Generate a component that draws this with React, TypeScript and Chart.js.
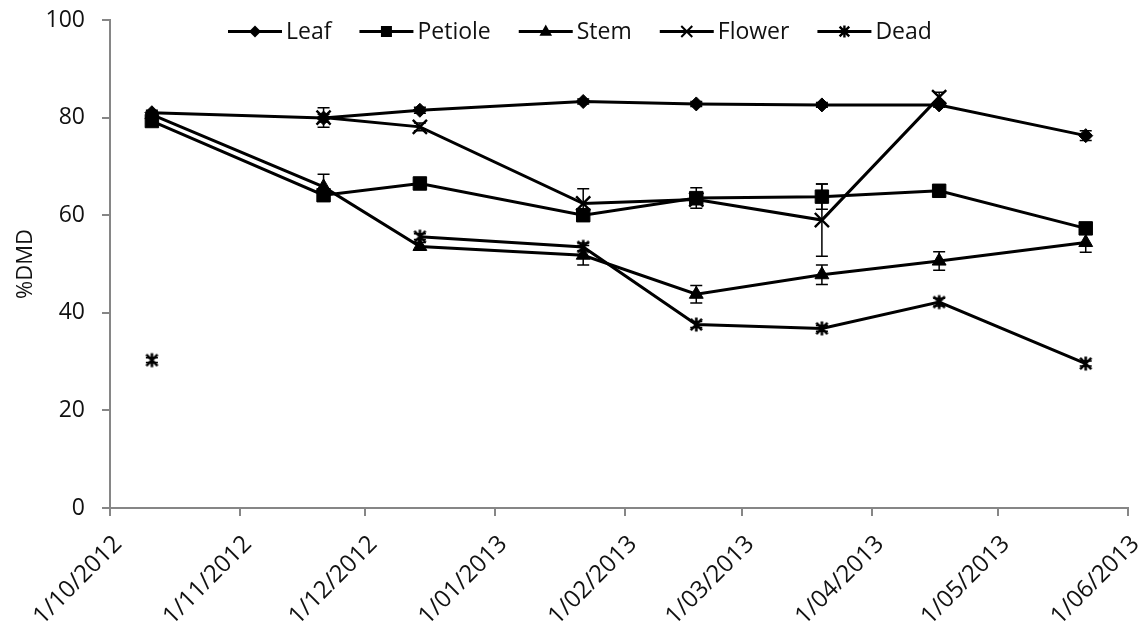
import React, { useEffect, useRef } from "react";
import { Chart, registerables } from "chart.js";

Chart.register(...registerables);

// ---------- data ----------
const sampleDates = [
  "2012-10-11",
  "2012-11-21",
  "2012-12-14",
  "2013-01-22",
  "2013-02-18",
  "2013-03-20",
  "2013-04-17",
  "2013-05-22",
];

const monthTicks = [
  "2012-10-01",
  "2012-11-01",
  "2012-12-01",
  "2013-01-01",
  "2013-02-01",
  "2013-03-01",
  "2013-04-01",
  "2013-05-01",
  "2013-06-01",
];

const seriesNames = ["Leaf", "Petiole", "Stem", "Flower", "Dead"];

const leaf = [81.0, 79.9, 81.5, 83.3, 82.8, 82.6, 82.6, 76.3];
const leafErr = [0.5, 0.8, 0.6, 0.5, 0.5, 0.5, 0.5, 1.0];

const petiole = [79.3, 64.1, 66.5, 60.0, 63.5, 63.8, 65.0, 57.3];
const petioleErr = [0.5, 0.8, 0.8, 1.0, 2.1, 2.6, 0.8, 1.0];

const stem = [80.6, 65.8, 53.6, 51.8, 43.8, 47.8, 50.6, 54.4];
const stemErr = [0.5, 2.6, 0.8, 2.0, 1.8, 2.0, 1.9, 2.0];

const flower = [null, 80.0, 78.1, 62.4, 63.2, 59.0, 84.2, null];
const flowerErr = [0, 2.0, 0.8, 3.0, 1.0, 7.4, 1.0, 0];

const dead = [30.3, null, 55.6, 53.5, 37.6, 36.8, 42.2, 29.6];
const deadErr = [0.5, 0, 0.6, 0.8, 0.6, 0.6, 0.8, 0.5];

const yTitle = "%DMD";

// ---------- helpers ----------
const toMs = (s: string) => {
  const [y, m, d] = s.split("-").map(Number);
  return Date.UTC(y, m - 1, d);
};
const fmtDate = (ms: number) => {
  const d = new Date(ms);
  return `${d.getUTCDate()}/${String(d.getUTCMonth() + 1).padStart(2, "0")}/${d.getUTCFullYear()}`;
};

const FONT = "'Open Sans', sans-serif";
const INK = "#111";
const AXIS = "#868686";

function makeAsterisk(r: number, lw: number) {
  const size = Math.ceil(2 * r + lw + 2);
  const c = document.createElement("canvas");
  c.width = size;
  c.height = size;
  const ctx = c.getContext("2d")!;
  const h = size / 2;
  ctx.strokeStyle = "#000";
  ctx.lineWidth = lw;
  ctx.beginPath();
  ctx.moveTo(h, h - r);
  ctx.lineTo(h, h + r);
  const d = r * 0.8;
  ctx.moveTo(h - d, h - d);
  ctx.lineTo(h + d, h + d);
  ctx.moveTo(h + d, h - d);
  ctx.lineTo(h - d, h + d);
  ctx.stroke();
  return c;
}

function drawLegendMarker(ctx: CanvasRenderingContext2D, style: string, x: number, y: number) {
  ctx.save();
  ctx.fillStyle = "#000";
  ctx.strokeStyle = "#000";
  ctx.lineWidth = 2;
  ctx.beginPath();
  if (style === "diamond") {
    const r = 6;
    ctx.moveTo(x, y - r);
    ctx.lineTo(x + r, y);
    ctx.lineTo(x, y + r);
    ctx.lineTo(x - r, y);
    ctx.closePath();
    ctx.fill();
  } else if (style === "square") {
    const s = 5.5;
    ctx.rect(x - s, y - s, 2 * s, 2 * s);
    ctx.fill();
  } else if (style === "triangle") {
    const r = 7;
    ctx.moveTo(x, y - r);
    ctx.lineTo(x + r * 0.9, y + r * 0.6);
    ctx.lineTo(x - r * 0.9, y + r * 0.6);
    ctx.closePath();
    ctx.fill();
  } else if (style === "x") {
    const d = 5.5;
    ctx.moveTo(x - d, y - d);
    ctx.lineTo(x + d, y + d);
    ctx.moveTo(x + d, y - d);
    ctx.lineTo(x - d, y + d);
    ctx.stroke();
  } else if (style === "asterisk") {
    const r = 6;
    const d = r * 0.8;
    ctx.lineWidth = 2.4;
    ctx.moveTo(x, y - r);
    ctx.lineTo(x, y + r);
    ctx.moveTo(x - d, y - d);
    ctx.lineTo(x + d, y + d);
    ctx.moveTo(x + d, y - d);
    ctx.lineTo(x - d, y + d);
    ctx.stroke();
  }
  ctx.restore();
}

const legendStyles = ["diamond", "square", "triangle", "x", "asterisk"];

const legendPlugin = {
  id: "customLegend",
  afterDraw(chart: any) {
    const ctx: CanvasRenderingContext2D = chart.ctx;
    ctx.save();
    ctx.font = `23px ${FONT}`;
    ctx.textBaseline = "middle";
    ctx.fillStyle = INK;
    let x = 228;
    const y = 31.5;
    seriesNames.forEach((name, i) => {
      ctx.strokeStyle = "#000";
      ctx.lineWidth = 3;
      ctx.beginPath();
      ctx.moveTo(x, y);
      ctx.lineTo(x + 54, y);
      ctx.stroke();
      drawLegendMarker(ctx, legendStyles[i], x + 27, y);
      ctx.fillStyle = INK;
      ctx.fillText(name, x + 58, y + 1);
      const w = ctx.measureText(name).width;
      x = x + 58 + w + 28;
    });
    ctx.restore();
  },
};

const errorBarPlugin = {
  id: "errorBars",
  afterDatasetsDraw(chart: any) {
    const ctx: CanvasRenderingContext2D = chart.ctx;
    const ys = chart.scales.y;
    ctx.save();
    ctx.strokeStyle = "#000";
    ctx.lineWidth = 1.5;
    chart.data.datasets.forEach((ds: any, i: number) => {
      const meta = chart.getDatasetMeta(i);
      meta.data.forEach((pt: any, j: number) => {
        const v = ds.data[j].y;
        const e = ds.errors[j];
        if (v == null || !e) return;
        const x = pt.x;
        const yTop = ys.getPixelForValue(v + e);
        const yBot = ys.getPixelForValue(v - e);
        ctx.beginPath();
        ctx.moveTo(x, yTop);
        ctx.lineTo(x, yBot);
        ctx.moveTo(x - 6, yTop);
        ctx.lineTo(x + 6, yTop);
        ctx.moveTo(x - 6, yBot);
        ctx.lineTo(x + 6, yBot);
        ctx.stroke();
      });
    });
    ctx.restore();
  },
};

export default function App() {
  const canvasRef = useRef<HTMLCanvasElement | null>(null);

  useEffect(() => {
    document.body.style.margin = "0";
    const canvas = canvasRef.current;
    if (!canvas) return;

    const asterisk = makeAsterisk(7, 2.6);
    const xs = sampleDates.map(toMs);
    const mk = (vals: (number | null)[]) => vals.map((v, i) => ({ x: xs[i], y: v }));

    const base = {
      borderColor: "#000",
      backgroundColor: "#000",
      borderWidth: 3,
      pointBorderColor: "#000",
      pointBackgroundColor: "#000",
      tension: 0,
      spanGaps: false,
    };

    const chart = new Chart(canvas, {
      type: "line",
      data: {
        datasets: [
          { ...base, label: "Leaf", data: mk(leaf), errors: leafErr, pointStyle: "rectRot", pointRadius: 7, pointBorderWidth: 1, order: 5 } as any,
          { ...base, label: "Petiole", data: mk(petiole), errors: petioleErr, pointStyle: "rect", pointRadius: 9.5, pointBorderWidth: 1, order: 4 } as any,
          { ...base, label: "Stem", data: mk(stem), errors: stemErr, pointStyle: "triangle", pointRadius: 8, pointBorderWidth: 1, order: 3 } as any,
          { ...base, label: "Flower", data: mk(flower), errors: flowerErr, pointStyle: "crossRot", pointRadius: 10, pointBorderWidth: 2.4, order: 2 } as any,
          { ...base, label: "Dead", data: mk(dead), errors: deadErr, pointStyle: asterisk, pointRadius: 7, pointBorderWidth: 2, order: 1 } as any,
        ],
      },
      options: {
        responsive: false,
        animation: false,
        events: [],
        layout: { padding: { top: 20, right: 12, left: 0, bottom: 0 } },
        plugins: {
          legend: { display: false },
          tooltip: { enabled: false },
        },
        scales: {
          x: {
            type: "linear",
            min: toMs(monthTicks[0]),
            max: toMs(monthTicks[monthTicks.length - 1]),
            afterBuildTicks: (scale: any) => {
              scale.ticks = monthTicks.map((s) => ({ value: toMs(s) }));
            },
            afterFit: (scale: any) => {
              scale.height = 122;
              scale.paddingLeft = 0;
              scale.paddingRight = 0;
            },
            grid: {
              display: true,
              drawOnChartArea: false,
              drawTicks: true,
              tickLength: 8,
              color: AXIS,
              lineWidth: 2,
            },
            border: { display: true, color: AXIS, width: 2 },
            ticks: {
              autoSkip: false,
              minRotation: 45,
              maxRotation: 45,
              padding: 14,
              labelOffset: 8,
              color: INK,
              font: { family: FONT, size: 24 },
              callback: (v: any) => fmtDate(Number(v)),
            },
          },
          y: {
            min: 0,
            max: 100,
            afterFit: (scale: any) => {
              scale.width = 110;
              scale.paddingTop = 0;
              scale.paddingBottom = 0;
            },
            grid: {
              display: true,
              drawOnChartArea: false,
              drawTicks: true,
              tickLength: 8,
              color: AXIS,
              lineWidth: 2,
            },
            border: { display: true, color: AXIS, width: 2 },
            ticks: {
              stepSize: 20,
              padding: 17,
              color: INK,
              font: { family: FONT, size: 23 },
            },
            title: {
              display: true,
              text: yTitle,
              color: INK,
              font: { family: FONT, size: 22 },
              padding: { top: 13, bottom: 0 },
            },
          },
        },
      } as any,
      plugins: [errorBarPlugin, legendPlugin],
    });

    return () => chart.destroy();
  }, []);

  return (
    <div style={{ position: "absolute", left: 0, top: 0, width: 1140, height: 630 }}>
      <canvas ref={canvasRef} width={1140} height={630} style={{ display: "block" }} />
    </div>
  );
}
